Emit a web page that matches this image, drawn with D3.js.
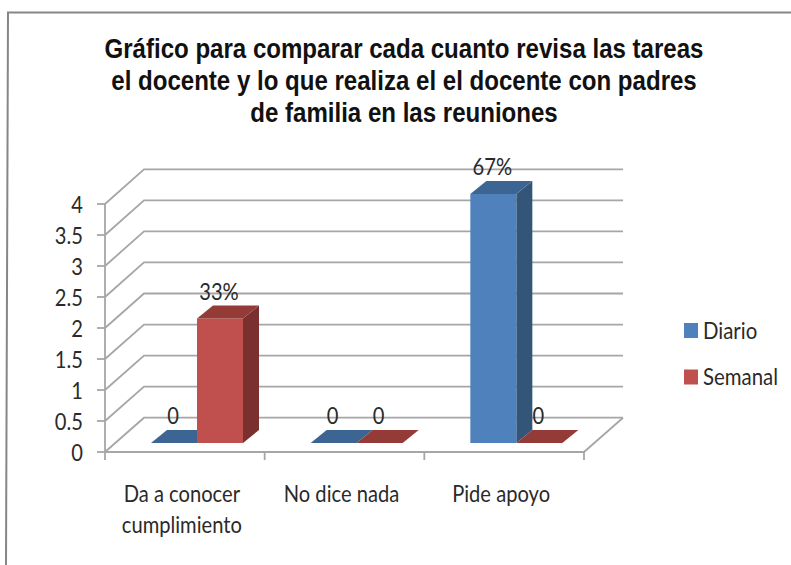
<!DOCTYPE html>
<html><head><meta charset="utf-8">
<style>html,body{margin:0;padding:0;background:#fff}svg{display:block}</style>
<script src="https://cdn.jsdelivr.net/npm/d3@7/dist/d3.min.js"></script></head>
<body><svg id="c" width="791" height="565"></svg>
<script>
const titleLines = ["Gráfico para comparar cada cuanto revisa las tareas","el docente y lo que realiza el el docente con padres","de familia en las reuniones"];
const categories = ["Da a conocer|cumplimiento","No dice nada","Pide apoyo"];
const seriesNames = ["Diario","Semanal"];
const diario = [0,0,4];
const semanal = [2,0,0];
const diarioLabels = ["0","0","67%"];
const semanalLabels = ["33%","0","0"];
const yTicks = [0,0.5,1,1.5,2,2.5,3,3.5,4];
const colors = {Diario:{front:"#4f81bd",top:"#3d6593",side:"#325578"},Semanal:{front:"#c0504d",top:"#943a37",side:"#7a302e"}};

const svg = d3.select("#c");
const sans = "'Liberation Sans',Arial,sans-serif";
const body = "Lato,'Open Sans',sans-serif";
const grid = "#a6a6a6";

// text with horizontal squeeze, as in the stretched reference image
function label(parent,s,px,py,anchor,size,sx){
  return parent.append("text").attr("transform",`translate(${px},${py}) scale(${sx},1)`)
    .attr("text-anchor",anchor).attr("font-family",body).attr("font-size",size).attr("fill","#2a2a2a").text(s);
}

// frame
svg.append("path").attr("d","M6,565L8,12.5L791,12.5").attr("fill","none").attr("stroke","#868686").attr("stroke-width",2);

// title
svg.append("g").selectAll("text").data(titleLines).join("text")
  .attr("transform",(d,i)=>`translate(404,${58+i*32}) scale(0.875,1)`).attr("text-anchor","middle")
  .attr("font-family",sans).attr("font-weight","bold").attr("font-size",27.5).attr("fill","#111").text(d=>d);

// scales
const x = d3.scaleBand().domain(categories).range([105,584]);
const inner = d3.scaleBand().domain(seriesNames).range([46,138]);
const yFront = d3.scaleLinear().domain([0,4]).range([452,204]);
const yBack = d3.scaleLinear().domain([0,4]).range([417.7,169.3]);
const yBar = d3.scaleLinear().domain([0,4]).range([443,194]);
const dxWall = 39, dxBar = 16, dyBar = 13;

// wall and floor gridlines
const g = svg.append("g").attr("fill","none").attr("stroke",grid).attr("stroke-width",1.8);
yTicks.forEach(t=>{
  g.append("path").attr("d",`M105,${yFront(t)}L${105+dxWall},${yBack(t)}L${584+dxWall},${yBack(t)}`);
  g.append("line").attr("x1",97).attr("x2",105).attr("y1",yFront(t)).attr("y2",yFront(t));
});
g.append("path").attr("d",`M105,${yFront(4)}V${yFront(0)}H584L${584+dxWall},${yBack(0)}`);
categories.concat(["end"]).forEach(c=>{
  const px = c==="end"?584:x(c);
  g.append("line").attr("x1",px).attr("x2",px).attr("y1",452).attr("y2",460);
});

// axis labels
const ya = svg.append("g");
yTicks.forEach(t=>label(ya,t,83,yFront(t)+9,"end",24,0.84));

const xa = svg.append("g");
categories.forEach(c=>{
  c.split("|").forEach((l,i)=>label(xa,l,x(c)+x.bandwidth()/2-3,502+i*31,"middle",24,0.84));
});

// bars
const bars = svg.append("g");
function bar(cat,name,v){
  const x0 = x(cat)+inner(name), w = inner.bandwidth(), c = colors[name];
  const y0 = yBar(0), y1 = yBar(v);
  if(v>0){
    bars.append("path").attr("fill",c.side).attr("d",`M${x0+w},${y1}l${dxBar},${-dyBar}V${y0-dyBar}L${x0+w},${y0}Z`);
    bars.append("rect").attr("x",x0).attr("y",y1).attr("width",w).attr("height",y0-y1).attr("fill",c.front);
  }
  bars.append("path").attr("fill",c.top).attr("d",`M${x0},${y1}l${dxBar},${-dyBar}h${w}l${-dxBar},${dyBar}Z`);
}
const order = categories.flatMap((c,i)=>[[c,"Diario",diario[i],diarioLabels[i]],[c,"Semanal",semanal[i],semanalLabels[i]]]);
order.forEach(d=>bar(d[0],d[1],d[2]));
const dl = svg.append("g");
order.forEach(d=>label(dl,d[3],x(d[0])+inner(d[1])+inner.bandwidth()/2-1,yBar(d[2])-dyBar-6,"middle",24,0.84));

// legend
const ly = d3.scalePoint().domain(seriesNames).range([330.5,377]);
const lg = svg.append("g");
seriesNames.forEach(n=>{
  lg.append("rect").attr("x",684).attr("y",ly(n)-7.5).attr("width",14).attr("height",15).attr("fill",colors[n].front);
  label(lg,n,703,ly(n)+8,"start",24,0.85);
});
</script></body></html>
